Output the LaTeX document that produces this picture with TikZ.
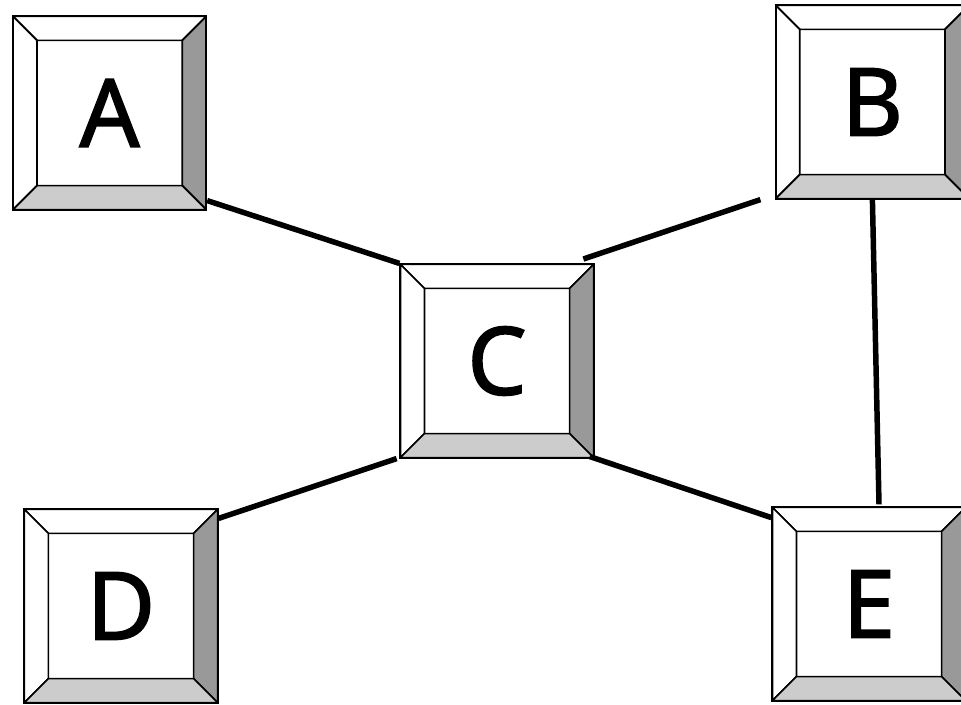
\documentclass[tikz,border=0pt]{standalone}
\usepackage{fontspec}
\setmainfont{Noto Sans}
\newfontfamily\capfont{Noto Sans}[FakeBold=1.6]
\usepackage{xcolor}
\usepackage{tikz}
\usetikzlibrary{calc}

\definecolor{capdark}{HTML}{999999}
\definecolor{caplight}{HTML}{CCCCCC}
\newcommand{\capinset}{0.6cm}

\tikzset{
	bevel/.style={draw=black, line width=1.2pt, line join=miter},
	keycap/.style={draw, line width=1.4pt, fill=white, minimum size=4.83cm, inner sep=0pt,
		font=\capfont\fontsize{67}{70}\selectfont,
		path picture={
			\path (path picture bounding box.south west) coordinate (sw)
				(path picture bounding box.north east) coordinate (ne)
				(path picture bounding box.south east) coordinate (se)
				(path picture bounding box.north west) coordinate (nw);
			\filldraw[bevel, fill=white] (nw) -- (ne) -- ([shift={(-\capinset,-\capinset)}]ne) -- ([shift={(\capinset,-\capinset)}]nw) -- cycle;
			\filldraw[bevel, fill=white] (nw) -- (sw) -- ([shift={(\capinset,\capinset)}]sw) -- ([shift={(\capinset,-\capinset)}]nw) -- cycle;
			\filldraw[bevel, fill=capdark] (ne) -- (se) -- ([shift={(-\capinset,\capinset)}]se) -- ([shift={(-\capinset,-\capinset)}]ne) -- cycle;
			\filldraw[bevel, fill=caplight] (sw) -- (se) -- ([shift={(-\capinset,\capinset)}]se) -- ([shift={(\capinset,\capinset)}]sw) -- cycle;
		}},
	link/.style={line width=3.9pt}
}

\begin{document}
\begin{tikzpicture}
	\useasboundingbox (0,0) rectangle (24.025,17.6);
	\node[keycap] (A) at (2.74,14.775) {A};
	\node[keycap] (B) at (21.81,15.05) {B};
	\node[keycap] (C) at (12.425,8.575) {C};
	\node[keycap] (D) at (3.025,2.45) {D};
	\node[keycap] (E) at (21.725,2.5) {E};
	\draw[link] ([yshift=0.25cm]A.south east) -- (C.north west);
	\draw[link] ([shift={(-0.28,0.11)}]C.north east) -- ([xshift=-0.36cm]B.south west);
	\draw[link] ([shift={(-0.12,0.05)}]C.south east) -- ([yshift=-0.28cm]E.north west);
	\draw[link] ([yshift=-0.25cm]D.north east) -- ([xshift=-0.07cm]C.south west);
	\draw[link] (B.south) -- ([shift={(0.25,0.05)}]E.north);
\end{tikzpicture}
\end{document}
